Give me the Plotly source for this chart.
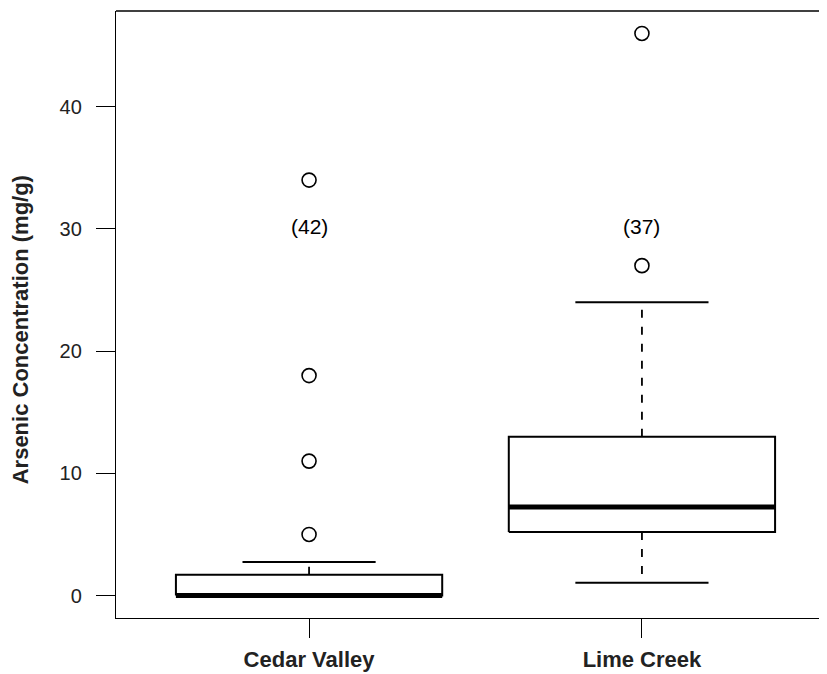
import plotly.graph_objects as go

# ---- data ----
categories = ["Cedar Valley", "Lime Creek"]
positions = [1, 2]
lower_whisker = [0.0, 1.05]
q1 = [0.0, 5.2]
median = [0.0, 7.25]
q3 = [1.7, 13.0]
upper_whisker = [2.75, 24.0]
outliers = [[5.0, 11.0, 18.0, 34.0], [27.0, 46.0]]
counts = [42, 37]
count_label_y = 30.2
y_ticks = [0, 10, 20, 30, 40]

BOX_HALF = 0.4
CAP_HALF = 0.2
BLACK = "#000000"
FONT = "Liberation Sans, Arial, sans-serif"

fig = go.Figure()

for pos, lw, a, m, b, uw, outs in zip(positions, lower_whisker, q1, median, q3, upper_whisker, outliers):
    # whiskers (dashed)
    fig.add_trace(go.Scatter(x=[pos, pos, None, pos, pos], y=[b, uw, None, a, lw], mode="lines",
                             line=dict(color=BLACK, width=1.8, dash="8px,9px"), hoverinfo="skip"))
    # caps
    fig.add_trace(go.Scatter(x=[pos - CAP_HALF, pos + CAP_HALF, None, pos - CAP_HALF, pos + CAP_HALF],
                             y=[uw, uw, None, lw, lw], mode="lines",
                             line=dict(color=BLACK, width=2), hoverinfo="skip"))
    # box
    fig.add_trace(go.Scatter(x=[pos - BOX_HALF, pos + BOX_HALF, pos + BOX_HALF, pos - BOX_HALF, pos - BOX_HALF],
                             y=[a, a, b, b, a], mode="lines", fill="toself", fillcolor="white",
                             line=dict(color=BLACK, width=2), hoverinfo="skip"))
    # median
    fig.add_trace(go.Scatter(x=[pos - BOX_HALF, pos + BOX_HALF], y=[m, m], mode="lines",
                             line=dict(color=BLACK, width=5), hoverinfo="skip"))
    # outliers
    fig.add_trace(go.Scatter(x=[pos] * len(outs), y=outs, mode="markers",
                             marker=dict(symbol="circle-open", size=14, color=BLACK, line=dict(width=1.6)),
                             hoverinfo="skip"))

for pos, n in zip(positions, counts):
    fig.add_annotation(x=pos, y=count_label_y, xref="x", yref="y", text=f"({n})", showarrow=False,
                       font=dict(size=21, color=BLACK, family=FONT),
                       xanchor="center", yanchor="middle")

# y-axis title
fig.add_annotation(x=-0.1335, y=0.474, xref="paper", yref="paper",
                   text="<b>Arsenic Concentration (mg/g)</b>", textangle=-90, showarrow=False,
                   font=dict(size=22, color="#222222", family=FONT),
                   xanchor="center", yanchor="middle")

# top frame line
fig.add_shape(type="line", xref="paper", yref="paper", x0=0, x1=1, y0=1, y1=1,
              line=dict(color=BLACK, width=1.3))

fig.update_layout(
    width=827, height=674,
    margin=dict(l=108, r=0, t=3, b=64),
    paper_bgcolor="white", plot_bgcolor="white",
    showlegend=False,
    font=dict(family=FONT, color=BLACK),
    xaxis=dict(range=[0.42, 2.58], tickmode="array", tickvals=positions,
               ticktext=[f"<b>{c}</b>" for c in categories],
               tickfont=dict(size=22, color="#222222"),
               ticks="outside", ticklen=19, tickwidth=1, tickcolor=BLACK,
               showline=True, linecolor=BLACK, linewidth=1.3,
               showgrid=False, zeroline=False, ticklabelstandoff=2),
    yaxis=dict(range=[-1.84, 47.84], tickmode="array", tickvals=y_ticks,
               ticktext=[str(t) for t in y_ticks],
               tickfont=dict(size=20, color="#222222"),
               ticks="outside", ticklen=19, tickwidth=1, tickcolor=BLACK,
               showline=True, linecolor=BLACK, linewidth=1.3,
               showgrid=False, zeroline=False, ticklabelstandoff=10),
)

fig.write_html("out.html")
